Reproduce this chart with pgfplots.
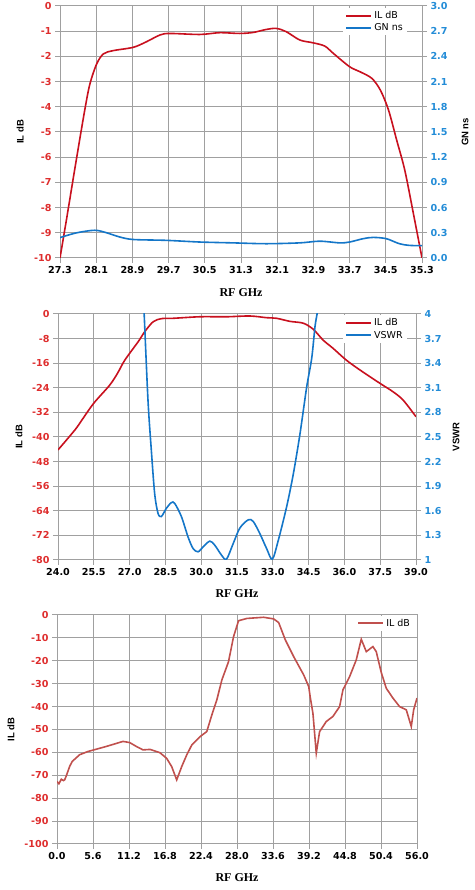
\documentclass[border=0pt]{standalone}
\usepackage{pgfplots}
\pgfplotsset{compat=1.18}
\usepackage{fontspec}
\setmainfont{DejaVu Sans}
\newfontfamily\tickfont{DejaVu Sans}
\newfontfamily\labfont{Liberation Serif}
\newfontfamily\ylabfont{Liberation Sans}
\definecolor{ilred}{RGB}{200,16,30}
\definecolor{gnblue}{RGB}{20,118,200}
\definecolor{ticred}{RGB}{222,45,45}
\definecolor{ticblue}{RGB}{35,140,215}
\definecolor{ilthree}{RGB}{192,80,77}
\definecolor{gridc}{RGB}{160,160,160}
\pgfplotsset{
 base/.style={scale only axis, anchor=south west,
   /pgf/number format/assume math mode=true,
   tick align=outside, major tick length=5pt,
   tick style={gridc, line width=1pt},
   axis line style={gridc, line width=1pt},
   major grid style={gridc, line width=1pt},
   xtick pos=bottom, 
   xticklabel style={font=\tickfont\bfseries\fontsize{9.6}{10}\selectfont, black},
   yticklabel style={font=\tickfont\bfseries\fontsize{9.6}{10}\selectfont},
   xlabel style={font=\labfont\bfseries\fontsize{12}{13}\selectfont, anchor=center},
   ylabel style={font=\ylabfont\bfseries\fontsize{9.5}{10}\selectfont, anchor=center},
   legend style={draw=none, fill=white, font=\fontsize{9.5}{11}\selectfont,
     inner xsep=2pt, inner ysep=1pt, row sep=0pt, cells={anchor=west}},
   legend image code/.code={\draw[#1, line width=2pt] (0pt,0pt) -- (25pt,0pt);},
 },
}
\begin{document}
\begin{tikzpicture}
\path[use as bounding box] (0,0) rectangle (474pt,890pt);
% ---------------- Panel 1 ----------------
\begin{axis}[base, at={(60pt,632pt)}, width=362pt, height=252pt,
  xmin=27.3, xmax=35.3, ymin=-10, ymax=0, grid=major, ytick pos=left,
  xtick={27.3,28.1,28.9,29.7,30.5,31.3,32.1,32.9,33.7,34.5,35.3},
  xticklabels={27.3,28.1,28.9,29.7,30.5,31.3,32.1,32.9,33.7,34.5,35.3},
  ytick={-10,-9,-8,-7,-6,-5,-4,-3,-2,-1,0},
  yticklabel style={ticred},
  xlabel={RF GHz}, ylabel={IL dB},
  xlabel style={at={(axis description cs:0.5,-0.139)}},
  ylabel style={at={(axis description cs:-0.11,0.5)}}]
\addplot[ilred, line width=1.6pt, smooth] coordinates {
(27.3,-10) (27.45,-8.4) (27.67,-6.0) (27.85,-4.1) (27.96,-3.1) (28.11,-2.3) (28.26,-1.9) (28.48,-1.77) (28.92,-1.64) (29.21,-1.42) (29.51,-1.15) (29.73,-1.09) (30.39,-1.13) (30.83,-1.06) (31.27,-1.09) (31.57,-1.05) (31.86,-0.93) (32.08,-0.89) (32.30,-1.02) (32.6,-1.35) (32.89,-1.46) (33.15,-1.59) (33.34,-1.88) (33.7,-2.41) (33.93,-2.61) (34.19,-2.87) (34.38,-3.34) (34.56,-4.13) (34.74,-5.32) (34.92,-6.52) (35.11,-8.24) (35.3,-10)};
\end{axis}
\begin{axis}[base, at={(60pt,632pt)}, width=362pt, height=252pt,
  xmin=27.3, xmax=35.3, ymin=0, ymax=3,
  axis y line*=right, axis x line=none,
  ytick={0,0.3,0.6,0.9,1.2,1.5,1.8,2.1,2.4,2.7,3.0},
  yticklabels={0.0,0.3,0.6,0.9,1.2,1.5,1.8,2.1,2.4,2.7,3.0},
  yticklabel style={ticblue},
  ylabel={GN ns},
  ylabel style={at={(axis description cs:1.119,0.5)}},
  legend style={at={(rel axis cs:0.782,0.992)}, anchor=north west}]
\addlegendimage{ilred}\addlegendentry{IL dB}
\addplot[gnblue, line width=1.6pt, smooth] coordinates {
(27.3,0.243) (27.67,0.30) (28.07,0.33) (28.33,0.30) (28.62,0.25) (28.92,0.22) (29.65,0.21) (30.39,0.19) (31.12,0.18) (31.86,0.17) (32.6,0.18) (33.04,0.20) (33.48,0.18) (33.7,0.19) (34.0,0.23) (34.22,0.245) (34.51,0.23) (34.8,0.17) (35.02,0.15) (35.3,0.147)};
\addlegendentry{GN ns}
\end{axis}
% ---------------- Panel 2 ----------------
\begin{axis}[base, at={(58pt,330pt)}, width=358pt, height=246pt,
  xmin=24, xmax=39, ymin=-80, ymax=0, grid=major, ytick pos=left,
  xtick={24,25.5,27,28.5,30,31.5,33,34.5,36,37.5,39},
  xticklabels={24.0,25.5,27.0,28.5,30.0,31.5,33.0,34.5,36.0,37.5,39.0},
  ytick={-80,-72,-64,-56,-48,-40,-32,-24,-16,-8,0},
  yticklabel style={ticred},
  xlabel={RF GHz}, ylabel={IL dB},
  xlabel style={at={(axis description cs:0.5,-0.138)}},
  ylabel style={at={(axis description cs:-0.109,0.5)}}]
\addplot[ilred, line width=1.6pt, smooth] coordinates {
(24.0,-44.2) (24.71,-37.7) (25.0,-34.5) (25.5,-29.0) (26.17,-23.1) (26.5,-19.2) (26.8,-15.0) (27.36,-9.0) (27.64,-5.7) (27.99,-2.5) (28.34,-1.5) (28.83,-1.4) (29.94,-0.9) (31.06,-0.9) (32.04,-0.65) (32.74,-1.2) (33.16,-1.4) (33.72,-2.4) (34.28,-3.0) (34.70,-5.0) (35.11,-8.5) (35.53,-11.2) (36.08,-15.0) (36.65,-18.2) (37.48,-22.5) (38.04,-25.3) (38.46,-28.0) (39.0,-33.4)};
\end{axis}
\begin{axis}[base, at={(58pt,330pt)}, width=358pt, height=246pt,
  xmin=24, xmax=39, ymin=1, ymax=4,
  axis y line*=right, axis x line=none,
  ytick={1,1.3,1.6,1.9,2.2,2.5,2.8,3.1,3.4,3.7,4},
  yticklabels={1,1.3,1.6,1.9,2.2,2.5,2.8,3.1,3.4,3.7,4},
  yticklabel style={ticblue},
  ylabel={VSWR},
  ylabel style={at={(axis description cs:1.112,0.5)}},
  legend style={at={(rel axis cs:0.796,0.995)}, anchor=north west}]
\addlegendimage{ilred}\addlegendentry{IL dB}
\addplot[gnblue, line width=1.6pt, smooth] coordinates {
(27.57,4.2) (27.61,4.0) (27.77,2.95) (27.91,2.34) (28.05,1.81) (28.19,1.57) (28.33,1.53) (28.54,1.63) (28.75,1.70) (28.89,1.69) (29.17,1.53) (29.45,1.28) (29.66,1.14) (29.87,1.10) (30.08,1.16) (30.36,1.23) (30.57,1.18) (30.85,1.06) (31.06,1.01) (31.34,1.20) (31.62,1.39) (31.97,1.49) (32.18,1.47) (32.46,1.32) (32.74,1.14) (32.98,1.01) (33.23,1.24) (33.58,1.65) (33.86,2.05) (34.14,2.54) (34.42,3.11) (34.63,3.46) (34.77,3.85) (34.87,4.03) (34.92,4.2)};
\addlegendentry{VSWR}
\end{axis}
% ---------------- Panel 3 ----------------
\begin{axis}[base, at={(57pt,46pt)}, width=360pt, height=229pt,
  xmin=0, xmax=56, ymin=-100, ymax=0, grid=major, ytick pos=left,
  xtick={0,5.6,11.2,16.8,22.4,28,33.6,39.2,44.8,50.4,56},
  xticklabels={0.0,5.6,11.2,16.8,22.4,28.0,33.6,39.2,44.8,50.4,56.0},
  ytick={-100,-90,-80,-70,-60,-50,-40,-30,-20,-10,0},
  yticklabel style={ticred},
  xlabel={RF GHz}, ylabel={IL dB},
  xlabel style={at={(axis description cs:0.5,-0.148)}},
  ylabel style={at={(axis description cs:-0.128,0.5)}},
  legend style={at={(rel axis cs:0.828,0.996)}, anchor=north west}]
\addplot[ilthree, line width=1.6pt] coordinates {
(0,-72.7) (0.3,-73.7) (0.67,-71.7) (1.0,-72.3) (1.19,-72) (1.45,-70.2) (1.97,-66.1) (2.38,-63.9) (3.53,-61.0) (4.82,-59.6) (6.12,-58.6) (7.67,-57.4) (8.97,-56.3) (10.26,-55.2) (11.30,-55.7) (12.34,-57.4) (13.38,-58.9) (14.47,-58.7) (16.0,-60.1) (17.06,-62.6) (17.84,-66.2) (18.62,-72) (19.4,-66.2) (20.18,-61.1) (20.96,-56.8) (22.26,-53.1) (23.3,-50.9) (24.08,-43.7) (24.86,-37.1) (25.64,-28.4) (26.68,-20.4) (27.46,-9.5) (28.24,-2.5) (29.54,-1.5) (32.14,-1.0) (33.7,-1.7) (34.48,-3.3) (35.52,-10.9) (36.82,-18.2) (38.38,-26.2) (39.16,-31.3) (39.42,-36.4) (39.81,-42.9) (40.33,-60.3) (40.85,-50.9) (41.89,-46.5) (42.92,-44.3) (43.96,-40) (44.48,-32.7) (45.52,-26.9) (46.55,-19.6) (47.33,-10.6) (48.11,-16.0) (49.14,-13.8) (49.66,-16.0) (50.44,-25.1) (51.22,-32.0) (52.26,-36.3) (53.29,-40.0) (54.33,-41.4) (55.11,-48.7) (55.48,-41.4) (56.0,-36.3)};
\addlegendentry{IL dB}
\end{axis}
\end{tikzpicture}
\end{document}
